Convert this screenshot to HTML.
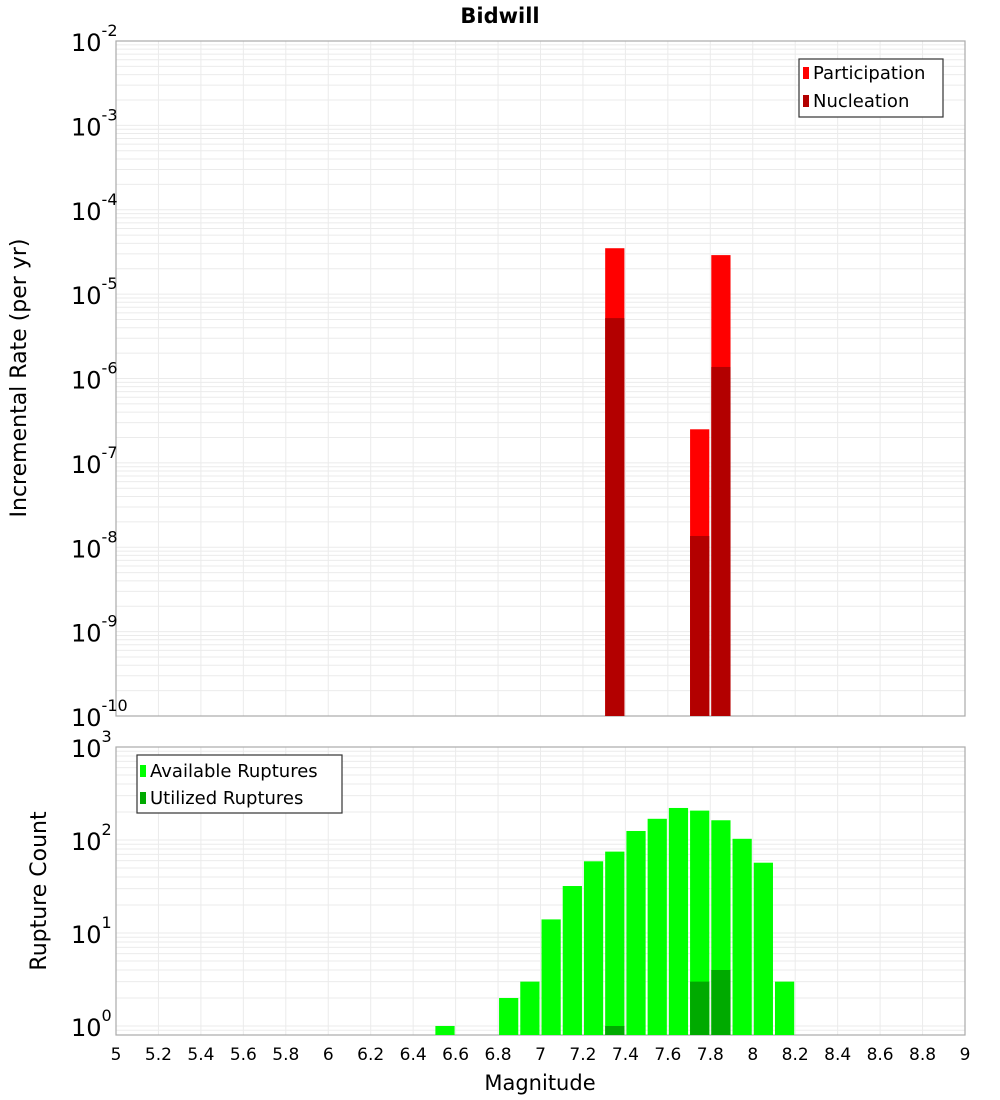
<!DOCTYPE html>
<html><head><meta charset="utf-8"><style>
body{margin:0;background:#fff}
svg{display:block;font-family:"DejaVu Sans","Liberation Sans",sans-serif}
</style></head><body>
<svg id="c" width="1000" height="1100" viewBox="0 0 1000 1100">
<text x="500" y="23" text-anchor="middle" font-size="21" font-weight="bold">Bidwill</text>
<text transform="translate(26,378) rotate(-90)" text-anchor="middle" font-size="22">Incremental Rate (per yr)</text>
<text transform="translate(46,891) rotate(-90)" text-anchor="middle" font-size="22">Rupture Count</text>
<text x="540" y="1090" text-anchor="middle" font-size="21">Magnitude</text>
<g id="topg"></g>
<g id="botg"></g>
<g>
<rect x="799" y="59" width="144" height="58" fill="#fff" stroke="#333" stroke-width="1.2"/>
<rect x="803" y="67" width="6" height="12" fill="#ff0000"/>
<text x="813" y="79" font-size="18">Participation</text>
<rect x="803" y="95" width="6" height="12" fill="#b30000"/>
<text x="813" y="107" font-size="18">Nucleation</text>
</g>
<g>
<rect x="137" y="755" width="205" height="58" fill="#fff" stroke="#333" stroke-width="1.2"/>
<rect x="140" y="765" width="6" height="12" fill="#00ff00"/>
<text x="150" y="777" font-size="18">Available Ruptures</text>
<rect x="140" y="792" width="6" height="12" fill="#00aa00"/>
<text x="150" y="804" font-size="18">Utilized Ruptures</text>
</g>
</svg>
<script>
const participationMags=[7.3,7.7,7.8];
const participationRates=[3.5e-5,2.5e-7,2.9e-5];
const nucleationMags=[7.3,7.7,7.8];
const nucleationRates=[5.2e-6,1.36e-8,1.37e-6];
const availableMags=[6.5,6.8,6.9,7.0,7.1,7.2,7.3,7.4,7.5,7.6,7.7,7.8,7.9,8.0,8.1];
const availableCounts=[1,2,3,14,32,59,75,125,169,221,207,163,103,57,3];
const utilizedMags=[7.3,7.7,7.8];
const utilizedCounts=[1,3,4];
const xTicks=[5,5.2,5.4,5.6,5.8,6,6.2,6.4,6.6,6.8,7,7.2,7.4,7.6,7.8,8,8.2,8.4,8.6,8.8,9];
const topDecades=[-2,-3,-4,-5,-6,-7,-8,-9,-10];
const botDecades=[0,1,2,3];

const NS="http://www.w3.org/2000/svg";
const X0=116,X1=965;
const xs=m=>X0+(m-5)/4*(X1-X0);
function mk(p,t,a){const e=document.createElementNS(NS,t);for(const k in a)e.setAttribute(k,a[k]);p.appendChild(e);return e;}
function panel(g,Y0,Y1,lmin,lmax,decs,name){
  const ys=v=>Y1-(Math.log10(v)-lmin)/(lmax-lmin)*(Y1-Y0);
  const gr=mk(g,'g',{});
  
  
  for(let d=Math.floor(lmin);d<lmax;d++)for(let k=1;k<10;k++){const y=ys(k*Math.pow(10,d));if(y<Y0||y>Y1)continue;mk(gr,'line',{x1:X0,x2:X1,y1:y,y2:y,stroke:'#ebebeb','stroke-width':1});}
  xTicks.forEach(t=>{const x=xs(t);mk(gr,'line',{x1:x,x2:x,y1:Y0,y2:Y1,stroke:'#ebebeb','stroke-width':1});});
  mk(g,'rect',{x:X0,y:Y0,width:X1-X0,height:Y1-Y0,fill:'none',stroke:'#aaa','stroke-width':1.2});
  decs.forEach(d=>{const y=ys(Math.pow(10,d));
    const t=mk(g,'text',{x:71,y:y+10,'font-size':24});
    
    
    t.appendChild(document.createTextNode('10'));
    const s=mk(t,'tspan',{dy:-15,'font-size':16});
    s.textContent=String(d);});
  return ys;
}
function bars(g,mags,vals,ys,Y1,color,name){
  mags.forEach((m,i)=>{const x=xs(m)+1,w=xs(m+0.1)-xs(m)-2,y=ys(vals[i]);
    const r=mk(g,'rect',{x:x,y:y,width:w,height:Y1-y,fill:color});
    
    });
}
const topG=document.getElementById('topg'),botG=document.getElementById('botg');
const ysT=panel(topG,41,716,-10,-2,topDecades,'top');
bars(topG,participationMags,participationRates,ysT,716,'#ff0000','participation');
bars(topG,nucleationMags,nucleationRates,ysT,716,'#b30000','nucleation');
const ysB=panel(botG,747,1035,Math.log10(0.8),3,botDecades,'bottom');
bars(botG,availableMags,availableCounts,ysB,1035,'#00ff00','available');
bars(botG,utilizedMags,utilizedCounts,ysB,1035,'#00aa00','utilized');
xTicks.forEach(t=>{const e=mk(botG,'text',{x:xs(t),y:1060,'text-anchor':'middle','font-size':17});
  
  
  e.textContent=String(t);});
</script>
</body></html>
